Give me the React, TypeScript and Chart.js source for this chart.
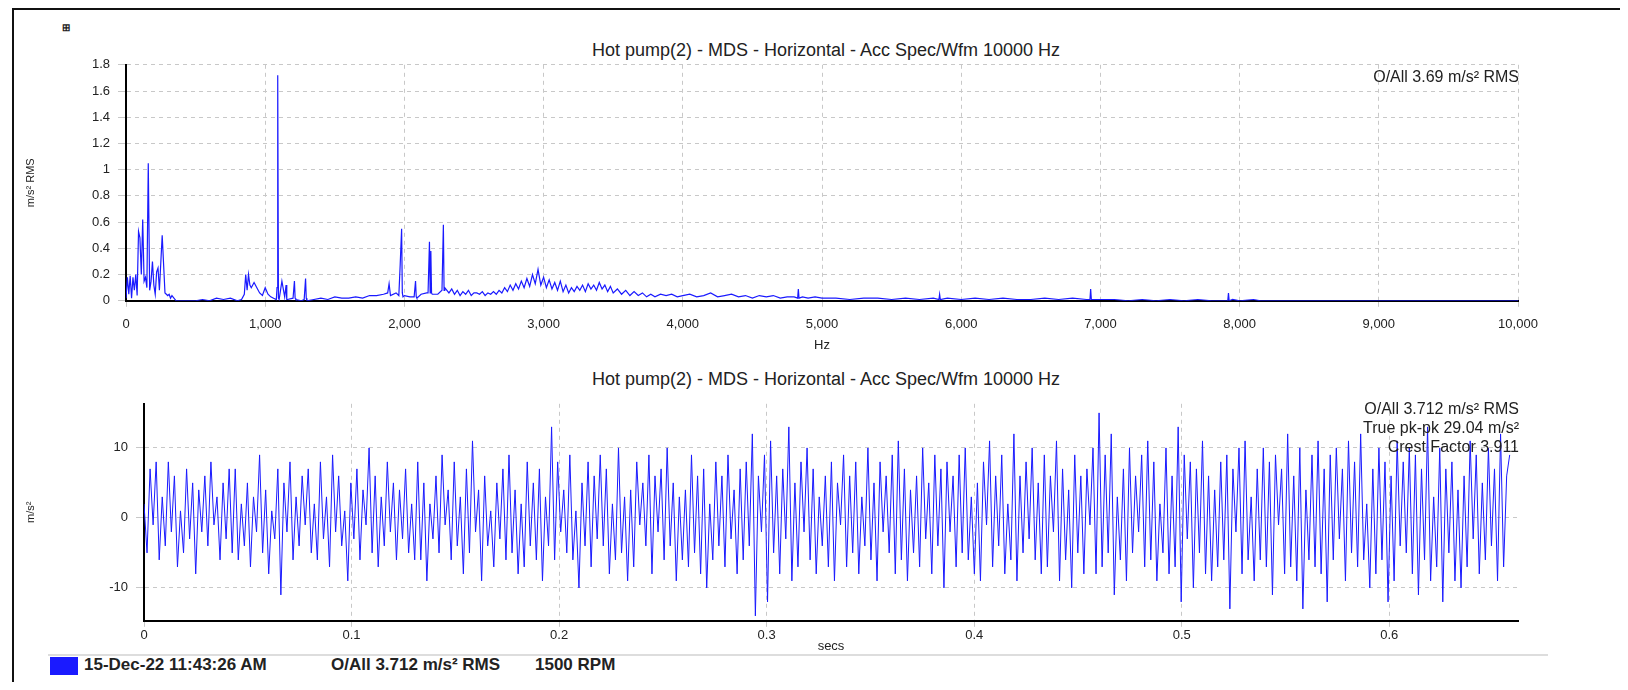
import React, { useEffect, useRef } from "react";
import { Chart, registerables } from "chart.js";
Chart.register(...registerables);

const specFreq = [0,10,20,30,40,50,60,70,80,90,100,110,120,130,140,150,160,170,180,190,200,210,220,230,240,260,280,300,310,320,330,360,400,450,500,550,600,650,700,750,800,830,850,860,870,880,890,900,920,940,960,980,1000,1020,1040,1060,1080,1085,1090,1095,1100,1120,1140,1150,1155,1160,1200,1210,1215,1220,1260,1280,1290,1295,1300,1350,1400,1450,1500,1550,1600,1650,1700,1750,1800,1850,1880,1890,1900,1940,1960,1970,1980,1985,1990,2000,2040,2070,2080,2085,2090,2120,2160,2170,2180,2185,2190,2195,2200,2240,2270,2280,2285,2290,
2320,2340,2360,2380,2400,2420,2440,2460,2480,2500,
2520,2540,2560,2580,2600,2620,2640,2660,2680,2700,
2720,2740,2760,2780,2800,2820,2840,2860,2880,2900,
2920,2940,2960,2980,3000,3020,3040,3060,3080,3100,
3120,3140,3160,3180,3200,3220,3240,3260,3280,3300,
3320,3340,3360,3380,3400,3420,3440,3460,3480,3500,
3530,3560,3590,3620,3650,3680,3710,3740,3770,3800,
3840,3880,3920,3960,4000,
4050,4100,4150,4200,4250,4300,4350,4400,4450,4500,4550,4600,4650,4700,4750,4800,
4825,4830,4835,4860,4900,4950,5000,
5100,5200,5300,5400,5500,5600,5700,5800,
5840,5845,5850,5900,
6000,6100,6200,6300,6400,6500,6600,6700,6800,6900,
6925,6930,6935,6960,
7000,7100,7200,7300,7400,7500,7600,7700,7800,7900,
7915,7920,7925,7950,
8000,8100,8150,8200,9000,10000];
const specAmp = [0.02,0.18,0.05,0.19,0.02,0.18,0.08,0.2,0.04,0.53,0.48,0.2,0.62,0.15,0.18,0.1,1.05,0.08,0.15,0.3,0.12,0.05,0.22,0.25,0.08,0.5,0.06,0.04,0.05,0.02,0.04,0.0,0.0,0.0,0.0,0.01,0.0,0.02,0.01,0.02,0.0,0.01,0.05,0.2,0.08,0.2,0.12,0.1,0.14,0.1,0.06,0.04,0.1,0.05,0.03,0.02,0.01,0.1,1.72,0.02,0.01,0.15,0.03,0.12,0.01,0.01,0.02,0.15,0.02,0.01,0.0,0.01,0.17,0.02,0.0,0.01,0.02,0.01,0.03,0.02,0.02,0.03,0.02,0.04,0.04,0.05,0.06,0.13,0.04,0.06,0.04,0.28,0.55,0.06,0.03,0.04,0.03,0.03,0.15,0.03,0.02,0.05,0.06,0.06,0.45,0.06,0.38,0.06,0.05,0.05,0.08,0.58,0.08,0.1,
0.06,0.09,0.05,0.08,0.04,0.07,0.05,0.08,0.04,0.06,
0.06,0.05,0.07,0.04,0.06,0.05,0.07,0.05,0.08,0.06,
0.1,0.07,0.12,0.08,0.13,0.09,0.15,0.1,0.17,0.11,
0.2,0.13,0.24,0.12,0.18,0.1,0.16,0.09,0.14,0.08,
0.15,0.07,0.12,0.06,0.1,0.07,0.11,0.08,0.12,0.07,
0.13,0.09,0.12,0.08,0.14,0.09,0.12,0.07,0.11,0.06,
0.09,0.05,0.08,0.04,0.07,0.04,0.06,0.03,0.05,0.03,
0.05,0.04,0.05,0.03,0.04,
0.05,0.03,0.04,0.06,0.03,0.04,0.05,0.03,0.04,0.02,0.04,0.03,0.04,0.02,0.03,0.03,
0.02,0.09,0.02,0.03,0.02,0.03,0.02,
0.02,0.01,0.02,0.02,0.01,0.02,0.01,0.02,
0.01,0.05,0.01,0.02,
0.01,0.02,0.01,0.02,0.01,0.01,0.02,0.01,0.02,0.01,
0.01,0.09,0.01,0.01,
0.01,0.01,0.0,0.01,0.0,0.01,0.0,0.01,0.0,0.0,
0.0,0.06,0.0,0.01,
0.0,0.01,0.0,0.0,0.0,0.0];

const wave = [
2,-5,7,-1,8,-6,3,-4,8,-2,6,-7,1,-5,7,-3,5,-8,4,-2,6,-4,8,-1,3,-6,5,-3,7,-5,
7,-6,2,-4,5,-7,3,-2,9,-5,4,-8,1,-3,7,-11,5,-2,8,-6,3,-4,6,-1,7,-5,2,-6,8,-3,
3,-7,9,-2,6,-4,1,-9,5,-3,7,-6,4,-1,10,-5,6,-7,3,-4,8,-2,5,-6,4,-3,7,-5,2,-6,
8,-6,5,-9,2,-3,6,-5,9,-1,4,-6,8,-4,3,-8,7,-5,11,-2,4,-9,6,-4,1,-7,5,-3,7,-6,
9,-5,4,-8,2,-7,8,-4,5,-6,7,-9,3,-4,13,-6,8,-2,4,-5,9,-6,1,-10,5,-4,8,-7,6,-3,
9,-4,7,-8,2,-6,10,-5,3,-9,4,-7,8,-1,5,-4,9,-8,6,-2,7,-6,10,-4,5,-9,3,-6,4,-7,
9,-5,6,-8,7,-10,2,-6,8,-4,6,-7,9,-3,4,-8,7,-6,8,-4,12,-14,6,-2,9,-12,11,-5,6,-8,
7,-3,13,-9,5,-7,8,-2,10,-6,7,-8,3,-4,6,-7,8,-9,5,-1,9,-7,6,-5,8,-8,3,-4,10,-6,
5,-9,8,-2,6,-5,9,-8,11,-6,7,-9,4,-5,6,-7,10,-3,5,-8,9,-4,7,-10,8,-2,6,-7,9,-5,
10,-6,3,-8,5,-9,8,-1,11,-7,6,-4,9,-8,2,-6,12,-9,6,-5,8,-3,10,-6,5,-8,9,-7,6,-2,
11,-9,7,-6,4,-10,9,-5,6,-8,7,-1,10,-8,15,-7,9,-5,12,-11,3,-6,7,-9,10,-5,6,-2,9,-7,
11,-6,8,-9,2,-5,10,-8,6,-7,13,-12,9,-3,8,-10,7,-5,11,-8,6,-9,4,-7,8,-6,9,-13,7,-2,
10,-8,11,-6,3,-9,7,-6,10,-7,8,-11,9,-1,7,-8,12,-7,6,-9,10,-13,4,-6,9,-7,11,-8,7,-12,
9,-6,10,-3,7,-9,11,-5,8,-7,12,-6,2,-10,7,-8,10,-6,8,-12,6,-9,11,-4,8,-5,10,-8,9,-11,
7,-6,13,-9,3,-7,10,-12,7,-5,8,-9,4,-10,6,-7,11,-3,9,-8,5,-6,10,-4,7,-9,12,-7,6,9
];
const waveDur = 0.658;

const yTicksTop = [0,0.2,0.4,0.6,0.8,1,1.2,1.4,1.6,1.8];
const xTicksTop = [0,1000,2000,3000,4000,5000,6000,7000,8000,9000,10000];
const yTicksBot = [-10,0,10];
const xTicksBot = [0,0.1,0.2,0.3,0.4,0.5,0.6];

const FONT = "'Liberation Sans', Arial, sans-serif";
const BLUE = "#1a1aff";
const grid = { color: "#c8c8c8" };
const border = { color: "#000", width: 2, dash: [4, 4] };

function useChart(ref: any, cfg: () => any) {
  useEffect(() => {
    const c = new Chart(ref.current, cfg());
    return () => c.destroy();
  }, []);
}

export default function App() {
  const topRef = useRef<HTMLCanvasElement>(null);
  const botRef = useRef<HTMLCanvasElement>(null);

  useChart(topRef, () => ({
    type: "line",
    data: { datasets: [{ data: specFreq.map((f, i) => ({ x: f, y: specAmp[i] })), borderColor: BLUE, borderWidth: 1.2, pointRadius: 0, tension: 0 }] },
    options: {
      animation: false, responsive: false, maintainAspectRatio: false,
      layout: { padding: { top: 6, right: 48, left: 0, bottom: 0 } },
      plugins: { legend: { display: false }, tooltip: { enabled: false } },
      scales: {
        x: { type: "linear", min: 0, max: 10000, afterBuildTicks: (a: any) => { a.ticks = xTicksTop.map(v => ({ value: v })); },
          grid: { ...grid, tickLength: 6 }, border,
          ticks: { color: "#222", font: { family: FONT, size: 13 }, padding: 10, maxRotation: 0, callback: (v: any) => v.toLocaleString("en-US") },
          title: { display: true, text: "Hz", color: "#222", font: { family: FONT, size: 13 }, padding: { top: -5, bottom: 0 } } },
        y: { min: 0, max: 1.8, afterBuildTicks: (a: any) => { a.ticks = yTicksTop.map(v => ({ value: v })); },
          afterFit: (s: any) => { s.width = 106; },
          grid: { ...grid }, border,
          ticks: { color: "#222", font: { family: FONT, size: 13 }, padding: 8, callback: (v: any) => String(Math.round(v * 10) / 10) },
          title: { display: true, text: "m/s² RMS", color: "#222", font: { family: FONT, size: 11 }, padding: 4 } },
      },
    },
  }));

  useChart(botRef, () => ({
    type: "line",
    data: { datasets: [{ data: wave.map((v, i) => ({ x: (i * waveDur) / (wave.length - 1), y: v })), borderColor: BLUE, borderWidth: 1, pointRadius: 0, tension: 0 }] },
    options: {
      animation: false, responsive: false, maintainAspectRatio: false,
      layout: { padding: { top: 5, right: 48, left: 0, bottom: 0 } },
      plugins: { legend: { display: false }, tooltip: { enabled: false } },
      scales: {
        x: { type: "linear", min: 0, max: 0.662, afterBuildTicks: (a: any) => { a.ticks = xTicksBot.map(v => ({ value: v })); },
          grid: { ...grid, tickLength: 6 }, border,
          ticks: { color: "#222", font: { family: FONT, size: 13 }, padding: 1, maxRotation: 0, callback: (v: any) => String(v) },
          title: { display: true, text: "secs", color: "#222", font: { family: FONT, size: 13 }, padding: { top: -6, bottom: 0 } } },
        y: { min: -14.7, max: 16.3, afterBuildTicks: (a: any) => { a.ticks = yTicksBot.map(v => ({ value: v })); },
          afterFit: (s: any) => { s.width = 124; },
          grid: { ...grid }, border,
          ticks: { color: "#222", font: { family: FONT, size: 13 }, padding: 8 },
          title: { display: true, text: "m/s²", color: "#222", font: { family: FONT, size: 11 }, padding: 4 } },
      },
    },
  }));

  const txt = (s: any): React.CSSProperties => ({ position: "absolute", fontFamily: FONT, color: "#222", whiteSpace: "nowrap", ...s });
  return (
    <div style={{ position: "relative", width: 1628, height: 690, margin: -8, background: "#fff", overflow: "hidden" }}>
      <div style={{ position: "absolute", left: 12, top: 8, width: 1612, height: 672, border: "2px solid #111" }} />
      <div style={txt({ left: 62, top: 22, fontSize: 10, fontWeight: "bold" })}>⊞</div>
      <div style={txt({ left: 0, width: 1652, top: 40, textAlign: "center", fontSize: 18 })}>Hot pump(2) - MDS - Horizontal - Acc Spec/Wfm 10000 Hz</div>
      <canvas ref={topRef} width={1546} height={304} style={txt({ left: 20, top: 49 })} />
      <div style={txt({ right: 1628 - 1519, top: 68, fontSize: 16, textAlign: "right" })}>O/All 3.69 m/s² RMS</div>

      <div style={txt({ left: 0, width: 1652, top: 369, textAlign: "center", fontSize: 18 })}>Hot pump(2) - MDS - Horizontal - Acc Spec/Wfm 10000 Hz</div>
      <canvas ref={botRef} width={1546} height={266} style={txt({ left: 20, top: 388 })} />
      <div style={txt({ right: 1628 - 1519, top: 399, fontSize: 16, textAlign: "right", lineHeight: "19px" })}>O/All 3.712 m/s² RMS<br />True pk-pk 29.04 m/s²<br />Crest Factor 3.911</div>

      <div style={{ position: "absolute", left: 48, top: 654, width: 1500, height: 2, background: "#ddd" }} />
      <div style={{ position: "absolute", left: 50, top: 657, width: 28, height: 18, background: BLUE }} />
      <div style={txt({ left: 84, top: 655, fontSize: 17, fontWeight: "bold", height: 19, overflow: "hidden" })}>15-Dec-22 11:43:26 AM</div>
      <div style={txt({ left: 331, top: 655, fontSize: 17, fontWeight: "bold", height: 19, overflow: "hidden" })}>O/All 3.712 m/s² RMS</div>
      <div style={txt({ left: 535, top: 655, fontSize: 17, fontWeight: "bold", height: 19, overflow: "hidden" })}>1500 RPM</div>
    </div>
  );
}
